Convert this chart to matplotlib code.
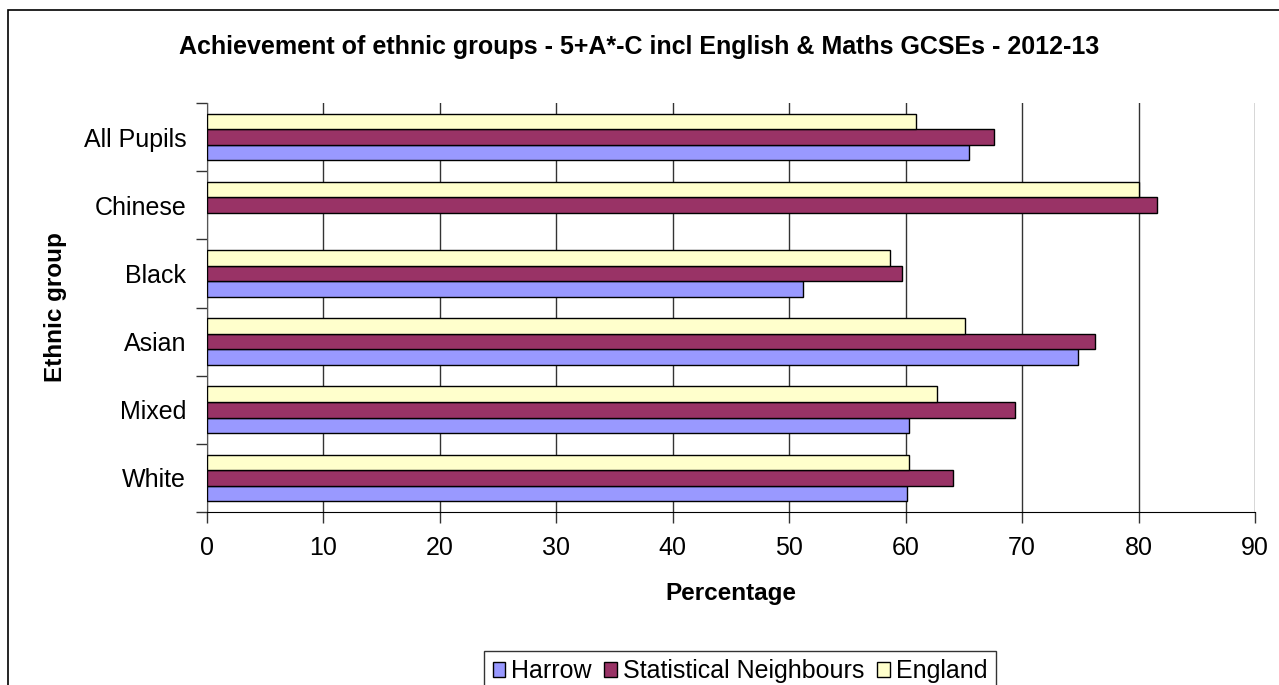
import numpy as np
import matplotlib.pyplot as plt
from matplotlib.patches import Rectangle

plt.rcParams['font.family'] = ['Liberation Sans', 'DejaVu Sans']

groups = ['White', 'Mixed', 'Asian', 'Black', 'Chinese', 'All Pupils']
harrow = [60.1, 60.3, 74.8, 51.2, np.nan, 65.4]
stat_neigh = [64.1, 69.4, 76.3, 59.7, 81.6, 67.6]
england = [60.3, 62.7, 65.1, 58.65, 80.0, 60.85]
series_names = ['Harrow', 'Statistical Neighbours', 'England']
colors = ['#9999FF', '#993366', '#FFFFCC']

fig = plt.figure(figsize=(12.79, 6.85), dpi=100)
# outer chart frame
fig.patches.append(Rectangle((8 / 1279, -0.1), 1.1, 1.1 - 10 / 685,
                             transform=fig.transFigure, fill=False,
                             edgecolor='black', linewidth=1.2))
ax = fig.add_axes([207 / 1279, 1 - 512 / 685, (1255 - 207) / 1279, (512 - 103) / 685])

y = np.arange(len(groups))
h = 0.228
for i, (vals, name) in enumerate(zip([harrow, stat_neigh, england], series_names)):
    ax.barh(y + (i - 1) * h, vals, height=h, color=colors[i], edgecolor='black',
            linewidth=1.0, label=name, zorder=3)

ax.set_xlim(0, 90)
ax.set_ylim(-0.5, len(groups) - 0.5)
ax.set_xticks(np.arange(0, 91, 10))
ax.xaxis.grid(True, color='#333333', linewidth=1.0, zorder=0)
ax.set_yticks(np.arange(-0.5, len(groups), 1))
ax.set_yticklabels([])
ax.set_yticks(y, minor=True)
ax.set_yticklabels(groups, minor=True)
ax.tick_params(axis='y', which='minor', length=0, labelsize=18, pad=15)
ax.tick_params(axis='y', which='major', length=8, width=1, color='#333333')
ax.tick_params(axis='x', length=8, width=1, labelsize=18, pad=9, color='#333333')
for side in ['top', 'right']:
    ax.spines[side].set_visible(False)
ax.spines['left'].set_color('#555555')
ax.spines['bottom'].set_color('black')

ax.set_xlabel('Percentage', fontsize=17.5, fontweight='bold', labelpad=16)
ax.set_ylabel('Ethnic group', fontsize=17.5, fontweight='bold', labelpad=12)

fig.text(639 / 1279, 1 - 47 / 685,
         'Achievement of ethnic groups - 5+A*-C incl English & Maths GCSEs - 2012-13',
         ha='center', va='center', fontsize=18, fontweight='bold')

leg = fig.legend(loc='upper center', bbox_to_anchor=(740 / 1279, 1 - 638 / 685),
                 ncol=3, fontsize=18, frameon=True, fancybox=False, edgecolor='black',
                 handlelength=0.5, handleheight=0.5, handletextpad=0.25, columnspacing=0.5,
                 borderpad=0.35)
leg.get_frame().set_linewidth(1.0)

fig.savefig('out.png', dpi=100)
